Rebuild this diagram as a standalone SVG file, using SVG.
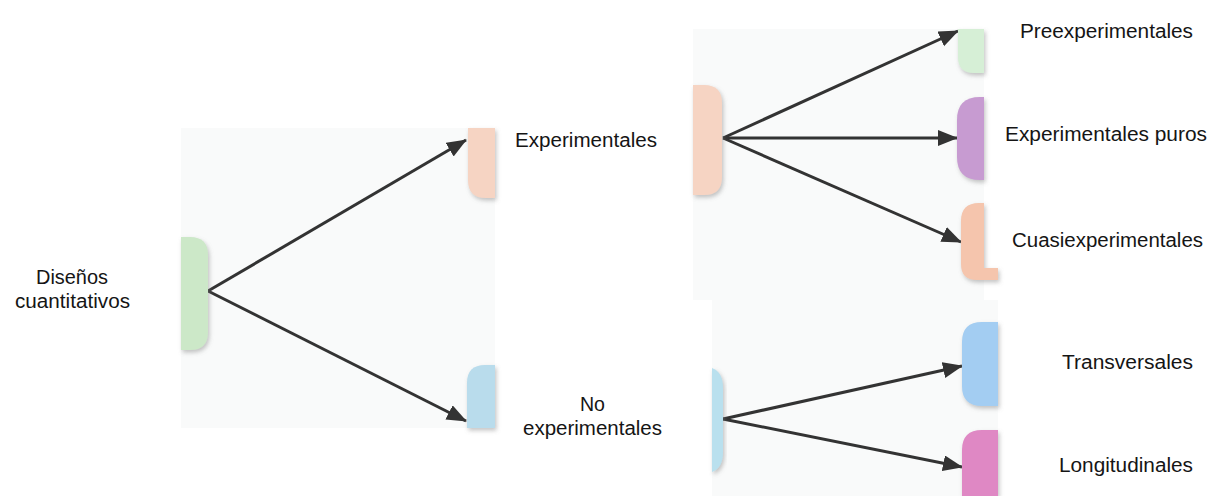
<svg xmlns="http://www.w3.org/2000/svg" width="1210" height="496" viewBox="0 0 1210 496">
  <style>
    .lbl { font-family: "Liberation Sans", Arial, sans-serif; font-size: 19.5px; fill: #151515; }
    .panel { fill: #f9fafa; }
    .edge { stroke: #333333; stroke-width: 3; fill: none; marker-end: url(#arrow); }
    .shape { filter: url(#shadow); }
  </style>
  <defs>
    <marker id="arrow" markerUnits="userSpaceOnUse" markerWidth="22" markerHeight="17" refX="19" refY="8" orient="auto">
      <path d="M0,0 L20,8 L0,16 Z" fill="#333333"/>
    </marker>
    <filter id="shadow" x="-30%" y="-30%" width="160%" height="160%">
      <feDropShadow dx="1.5" dy="2.5" stdDeviation="2" flood-color="#7a7a7a" flood-opacity="0.45"/>
    </filter>
  </defs>
  <rect width="1210" height="496" fill="#ffffff"/>

  <g id="panels">
    <rect class="panel" x="181" y="128" width="314" height="300"/>
    <rect class="panel" x="693" y="29" width="291" height="271"/>
    <rect class="panel" x="712" y="300" width="286" height="196"/>
  </g>

  <g id="connectors">
    <line class="edge" x1="208" y1="291" x2="466" y2="140"/>
    <line class="edge" x1="208" y1="291" x2="466" y2="421"/>
    <line class="edge" x1="723" y1="138" x2="958" y2="31"/>
    <line class="edge" x1="723" y1="138" x2="957" y2="138"/>
    <line class="edge" x1="723" y1="138" x2="961" y2="242"/>
    <line class="edge" x1="723" y1="419" x2="962" y2="366"/>
    <line class="edge" x1="723" y1="419" x2="962" y2="467"/>
  </g>

  <g id="node-disenos">
    <path class="shape" d="M181,237 H190 Q208,237 208,255 V332 Q208,350 190,350 H181 Z" fill="#cce8c8"/>
    <text class="lbl" x="36" y="284" textLength="72" lengthAdjust="spacingAndGlyphs">Diseños</text>
    <text class="lbl" x="15" y="308" textLength="115" lengthAdjust="spacingAndGlyphs">cuantitativos</text>
  </g>

  <g id="node-experimentales">
    <path class="shape" d="M468,128 H495 V198 H486 Q468,198 468,180 Z" fill="#f6d4c3"/>
    <path class="shape" d="M693,85 H704 Q722,85 722,103 V177 Q722,195 704,195 H693 Z" fill="#f6d4c3"/>
    <text class="lbl" x="515" y="147" textLength="142" lengthAdjust="spacingAndGlyphs">Experimentales</text>
  </g>

  <g id="node-no-experimentales">
    <path class="shape" d="M495,365 V428 H467 V383 Q467,365 485,365 Z" fill="#b9dcec"/>
    <path class="shape" d="M712,368 Q723,372 723,388 V452 Q723,468 712,472 Z" fill="#b9e0ee"/>
    <text class="lbl" x="580" y="411" textLength="25" lengthAdjust="spacingAndGlyphs">No</text>
    <text class="lbl" x="523" y="435" textLength="139" lengthAdjust="spacingAndGlyphs">experimentales</text>
  </g>

  <g id="node-preexperimentales">
    <path class="shape" d="M958,29 H984 V73 H974 Q958,73 958,57 Z" fill="#d6efd6"/>
    <text class="lbl" x="1020" y="38" textLength="173" lengthAdjust="spacingAndGlyphs">Preexperimentales</text>
  </g>

  <g id="node-experimentales-puros">
    <path class="shape" d="M984,97 V180 H980 Q957,180 957,157 V120 Q957,97 980,97 Z" fill="#c79bd1"/>
    <text class="lbl" x="1005" y="141" textLength="202" lengthAdjust="spacingAndGlyphs">Experimentales puros</text>
  </g>

  <g id="node-cuasiexperimentales">
    <path class="shape" d="M984,203 H979 Q961,203 961,221 V264 Q961,280 977,280 H998 V268 H984 Z" fill="#f5c5ad"/>
    <text class="lbl" x="1012" y="247" textLength="191" lengthAdjust="spacingAndGlyphs">Cuasiexperimentales</text>
  </g>

  <g id="node-transversales">
    <path class="shape" d="M998,322 V406 H982 Q962,406 962,386 V342 Q962,322 982,322 Z" fill="#a3cdf2"/>
    <text class="lbl" x="1062" y="369" textLength="131" lengthAdjust="spacingAndGlyphs">Transversales</text>
  </g>

  <g id="node-longitudinales">
    <path class="shape" d="M998,430 V496 H962 V450 Q962,430 982,430 Z" fill="#df88c4"/>
    <text class="lbl" x="1059" y="472" textLength="134" lengthAdjust="spacingAndGlyphs">Longitudinales</text>
  </g>
</svg>
